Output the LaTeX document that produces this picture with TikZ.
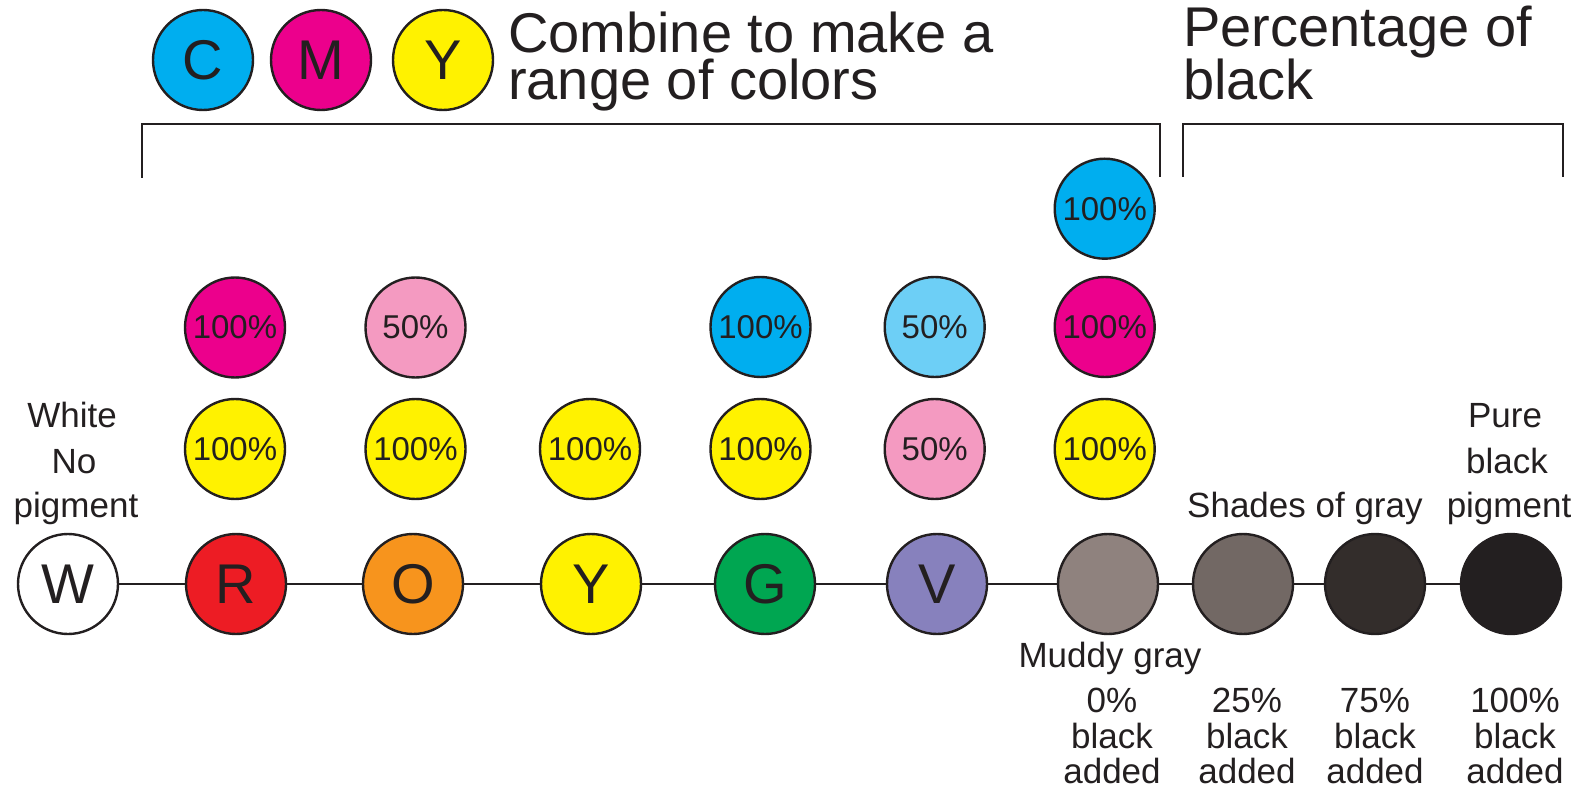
\documentclass[tikz,border=0pt]{standalone}
\usepackage{fontspec}
\setmainfont{Liberation Sans}
\definecolor{inkc}{HTML}{231F20}
\definecolor{cyanc}{HTML}{00AEEF}
\definecolor{magc}{HTML}{EC008C}
\definecolor{yelc}{HTML}{FFF200}
\definecolor{pinkc}{HTML}{F49AC1}
\definecolor{lcyanc}{HTML}{6DCFF6}
\definecolor{redc}{HTML}{ED1C24}
\definecolor{orangec}{HTML}{F7941D}
\definecolor{greenc}{HTML}{00A651}
\definecolor{violetc}{HTML}{8781BD}
\definecolor{muddyc}{HTML}{8F827E}
\definecolor{grayqc}{HTML}{726864}
\definecolor{graytc}{HTML}{332D2B}
\definecolor{blackc}{HTML}{231F20}
\begin{document}
\begin{tikzpicture}[x=1pt,y=-1pt,
  ink/.style={draw=inkc, line width=2.4pt},
  disc/.style={circle, ink, minimum size=100pt, inner sep=0pt, text=inkc},
  big/.style={disc, font=\fontsize{56}{60}\selectfont},
  pct/.style={disc, font=\fontsize{33}{40}\selectfont},
  lbl/.style={anchor=base, inner sep=0pt, text=inkc, font=\fontsize{35}{42}\selectfont},
  head/.style={anchor=base west, inner sep=0pt, text=inkc, align=left,
    font=\fontsize{56}{47}\selectfont},
  link/.style={draw=inkc, line width=2pt},
  brack/.style={draw=inkc, line width=2.2pt}]
\useasboundingbox (0,0) rectangle (1585,791);

% top CMY
\node[big, fill=cyanc] (tc) at (203,60) {C};
\node[big, fill=magc] (tm) at (321,60) {M};
\node[big, fill=yelc] (ty) at (443,60) {Y};
\node[head] (h1) at (508,100) {Combine to make a\\range of colors};
\node[head] (p1) at (1183,100) {Percentage of\\black};

% brackets
\draw[brack] (142,178) -- (142,124) -- (1160,124) -- (1160,177);
\draw[brack] (1183,177) -- (1183,124) -- (1563,124) -- (1563,177);

% main row
\node[big, fill=white] (w) at (68,584) {W};
\node[big, fill=redc] (r) at (236,584) {R};
\node[big, fill=orangec] (o) at (413,584) {O};
\node[big, fill=yelc] (y) at (591,584) {Y};
\node[big, fill=greenc] (g) at (765,584) {G};
\node[big, fill=violetc] (v) at (937,584) {V};
\node[big, fill=muddyc] (mud) at (1108,584) {};
\node[big, fill=grayqc] (gq) at (1243,584) {};
\node[big, fill=graytc] (gt) at (1375,584) {};
\node[big, fill=blackc] (bk) at (1511,584) {};
\draw[link] (w) -- (r);
\draw[link] (r) -- (o);
\draw[link] (o) -- (y);
\draw[link] (y) -- (g);
\draw[link] (g) -- (v);
\draw[link] (v) -- (mud);
\draw[link] (mud) -- (gq);
\draw[link] (gq) -- (gt);
\draw[link] (gt) -- (bk);

% pigment columns
\node[pct, fill=magc] (rm) at (235,327.5) {100\%};
\node[pct, fill=yelc] (ry) at (235,449) {100\%};
\node[pct, fill=pinkc] (om) at (415.5,327.5) {50\%};
\node[pct, fill=yelc] (oy) at (415.5,449) {100\%};
\node[pct, fill=yelc] (yy) at (590,449) {100\%};
\node[pct, fill=cyanc] (gc) at (760.5,327) {100\%};
\node[pct, fill=yelc] (gy) at (760.5,449) {100\%};
\node[pct, fill=lcyanc] (vc) at (934.7,327) {50\%};
\node[pct, fill=pinkc] (vm) at (934.7,449) {50\%};
\node[pct, fill=cyanc] (mc) at (1104.7,208.7) {100\%};
\node[pct, fill=magc] (mm) at (1104.7,327) {100\%};
\node[pct, fill=yelc] (my) at (1104.7,449) {100\%};

% side labels
\node[lbl] (wl1) at (72,428) {White};
\node[lbl] (wl2) at (74,473) {No};
\node[lbl] (wl3) at (76,517) {pigment};
\node[lbl] (bl1) at (1505,428) {Pure};
\node[lbl] (bl2) at (1507,473) {black};
\node[lbl] (bl3) at (1509,517) {pigment};
\node[lbl, anchor=base west] (sg) at (1187,517) {Shades of gray};
\node[lbl] (mg) at (1110,667) {Muddy gray};

% bottom labels
\node[lbl] (a1) at (1112,712) {0\%};
\node[lbl] (a2) at (1112,748) {black};
\node[lbl] (a3) at (1112,783) {added};
\node[lbl] (b1) at (1247,712) {25\%};
\node[lbl] (b2) at (1247,748) {black};
\node[lbl] (b3) at (1247,783) {added};
\node[lbl] (c1) at (1375,712) {75\%};
\node[lbl] (c2) at (1375,748) {black};
\node[lbl] (c3) at (1375,783) {added};
\node[lbl] (d1) at (1515,712) {100\%};
\node[lbl] (d2) at (1515,748) {black};
\node[lbl] (d3) at (1515,783) {added};
\end{tikzpicture}
\end{document}
